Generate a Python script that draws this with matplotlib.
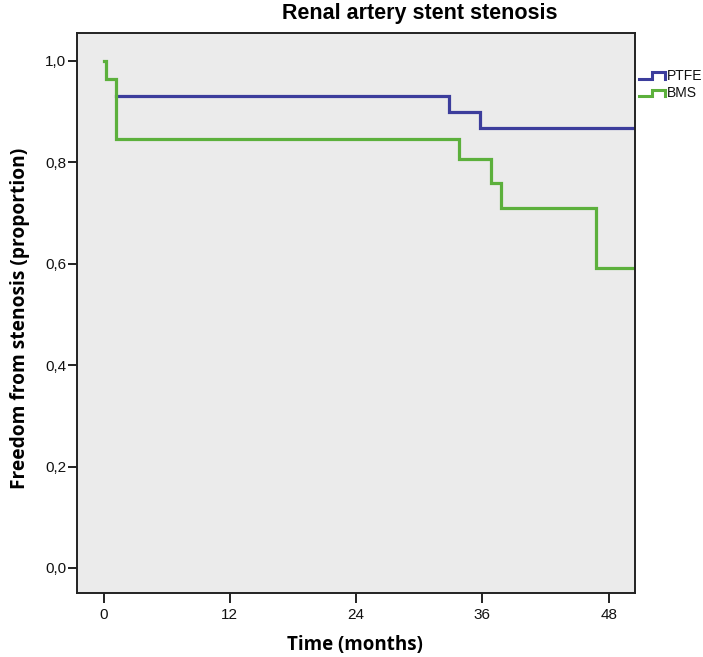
import matplotlib
matplotlib.use("Agg")
import matplotlib.pyplot as plt
from matplotlib.lines import Line2D

# ---- data ----
ptfe_time = [1.2, 32.8, 35.8, 50.5]
ptfe_surv = [0.930, 0.899, 0.868, 0.868]
bms_time = [0.0, 0.2, 1.2, 33.8, 36.8, 37.8, 46.8, 50.5]
bms_surv = [1.000, 0.965, 0.846, 0.807, 0.759, 0.709, 0.591, 0.591]
series_names = ["PTFE", "BMS"]
xticks = [0, 12, 24, 36, 48]
xticklabels = ["0", "12", "24", "36", "48"]
yticks = [0.0, 0.2, 0.4, 0.6, 0.8, 1.0]
yticklabels = ["0,0", "0,2", "0,4", "0,6", "0,8", "1,0"]

blue = "#3c3d9c"
green = "#5cb03c"

W, H = 703, 657
fig = plt.figure(figsize=(W / 100, H / 100), dpi=100)
fig.patch.set_facecolor("white")
ax = fig.add_axes([76.5 / W, 1 - 593 / H, (635 - 76.5) / W, (593 - 33) / H])
ax.set_facecolor("#ebebeb")

ax.step(ptfe_time, ptfe_surv, where="post", color=blue, lw=2.3, solid_joinstyle="miter")
ax.step(bms_time, bms_surv, where="post", color=green, lw=2.3, solid_joinstyle="miter")

ax.set_xlim(-2.57, 50.5)
ax.set_ylim(-0.0493, 1.055)
ax.set_xticks(xticks)
ax.set_xticklabels(xticklabels)
ax.set_yticks(yticks)
ax.set_yticklabels(yticklabels)
for s in ax.spines.values():
    s.set_linewidth(1.4)
    s.set_color("#222222")
ax.tick_params(axis="x", length=7, width=1.4, pad=4, labelsize=11, colors="#222222")
ax.tick_params(axis="y", length=6.5, width=1.4, pad=1, labelsize=11, colors="#222222")
for lab in ax.get_xticklabels() + ax.get_yticklabels():
    lab.set_family("Liberation Sans")
    lab.set_color("#111111")

fig.text(420 / W, 1 - 14 / H, "Renal artery stent stenosis", ha="center", va="center",
         fontsize=15.5, fontweight="bold", family="Liberation Sans")
fig.text(355 / W, 1 - 645 / H, "Time (months)", ha="center", va="center",
         fontsize=13.5, fontweight="bold", family="Open Sans")
fig.text(20 / W, 1 - 318 / H, "Freedom from stenosis (proportion)", ha="center", va="center",
         rotation=90, fontsize=13.8, fontweight="bold", family="Open Sans")

# legend (step icons) outside on the right
for name, col, yc in zip(series_names, [blue, green], [75.5, 93]):
    xs = [639, 652, 652, 665, 665]
    ys = [yc + 3, yc + 3, yc - 3.5, yc - 3.5, yc + 3]
    fig.add_artist(Line2D([x / W for x in xs], [1 - y / H for y in ys],
                          transform=fig.transFigure, color=col, lw=2.2,
                          solid_joinstyle="miter"))
    fig.text(667 / W, 1 - yc / H, name, ha="left", va="center", fontsize=10,
             family="Liberation Sans", color="#111111")

fig.savefig("out.png", dpi=100, facecolor="white")
